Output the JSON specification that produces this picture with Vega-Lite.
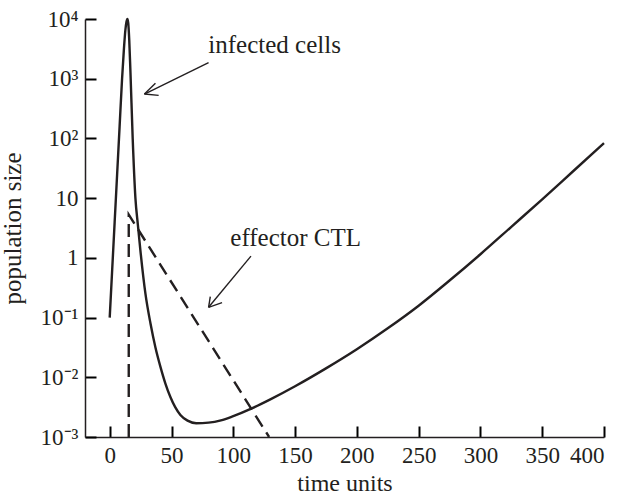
{
  "$schema": "https://vega.github.io/schema/vega-lite/v6.json",
  "autosize": "none",
  "width": 519,
  "height": 418,
  "padding": {"left": 85, "top": 19, "right": 19, "bottom": 58},
  "background": "white",
  "datasets": {
    "infected": [
      {"t": 0, "v": 0.1}, {"t": 2, "v": 0.631}, {"t": 4, "v": 3.98}, {"t": 6, "v": 25.1},
      {"t": 8, "v": 158}, {"t": 10, "v": 1000}, {"t": 11.5, "v": 3162}, {"t": 12.7, "v": 6607},
      {"t": 13.6, "v": 9120}, {"t": 14.3, "v": 10000}, {"t": 15.0, "v": 8511}, {"t": 15.8, "v": 4467},
      {"t": 16.8, "v": 1259}, {"t": 18.6, "v": 100}, {"t": 20.8, "v": 10}, {"t": 22.8, "v": 3.55},
      {"t": 24.8, "v": 1.35}, {"t": 28.9, "v": 0.251}, {"t": 33, "v": 0.0794}, {"t": 37, "v": 0.0316},
      {"t": 41, "v": 0.0151}, {"t": 45, "v": 0.00794}, {"t": 49.1, "v": 0.00468}, {"t": 53, "v": 0.00316},
      {"t": 57.2, "v": 0.00234}, {"t": 63, "v": 0.00188}, {"t": 70, "v": 0.0017}, {"t": 80, "v": 0.00174},
      {"t": 90, "v": 0.0019}, {"t": 100, "v": 0.00224}, {"t": 115, "v": 0.00302}, {"t": 130, "v": 0.00427},
      {"t": 150, "v": 0.00708}, {"t": 175, "v": 0.0141}, {"t": 200, "v": 0.0295}, {"t": 225, "v": 0.0661},
      {"t": 250, "v": 0.158}, {"t": 275, "v": 0.417}, {"t": 300, "v": 1.15}, {"t": 325, "v": 3.31},
      {"t": 350, "v": 9.55}, {"t": 375, "v": 28.2}, {"t": 400, "v": 83.2}
    ],
    "ctl": [
      {"i": 0, "t": 15.4, "v": 0.001},
      {"i": 1, "t": 15.4, "v": 5.3},
      {"i": 2, "t": 129, "v": 0.001}
    ],
    "arrows": [
      {"t": 80.0, "v": 1853, "t2": 28.1, "v2": 554},
      {"t": 28.1, "v": 554, "t2": 37.0, "v2": 838},
      {"t": 28.1, "v": 554, "t2": 39.6, "v2": 527},
      {"t": 114.3, "v": 1.07, "t2": 80.0, "v2": 0.1486},
      {"t": 80.0, "v": 0.1486, "t2": 81.4, "v2": 0.2234},
      {"t": 80.0, "v": 0.1486, "t2": 90.9, "v2": 0.1774}
    ],
    "labels": [
      {"t": 79.8, "v": 2692, "label": "infected cells"},
      {"t": 97.6, "v": 1.58, "label": "effector CTL"}
    ]
  },
  "encoding": {
    "x": {
      "field": "t", "type": "quantitative",
      "scale": {"domain": [-20, 400], "nice": false, "zero": false},
      "axis": {
        "title": "time units",
        "values": [0, 50, 100, 150, 200, 250, 300, 350, 400],
        "tickSize": -11,
        "labelPadding": 18,
        "titlePadding": 4,
        "titleFontSize": 24
      }
    },
    "y": {
      "field": "v", "type": "quantitative",
      "scale": {"type": "log", "domain": [0.001, 10000], "nice": false},
      "axis": {
        "title": "population size",
        "values": [0.001, 0.01, 0.1, 1, 10, 100, 1000, 10000],
        "tickSize": -11,
        "labelPadding": 18,
        "titlePadding": 15,
        "titleFontSize": 25,
        "labelExpr": "datum.value > 5000 ? '10⁴' : datum.value > 500 ? '10³' : datum.value > 50 ? '10²' : datum.value > 5 ? '10' : datum.value > 0.5 ? '1' : datum.value > 0.05 ? '10⁻¹' : datum.value > 0.005 ? '10⁻²' : '10⁻³'"
      }
    }
  },
  "layer": [
    {
      "data": {"name": "infected"},
      "mark": {"type": "line", "interpolate": "monotone", "color": "#231f20", "strokeWidth": 2.4}
    },
    {
      "data": {"name": "ctl"},
      "mark": {"type": "line", "color": "#231f20", "strokeWidth": 2.4, "strokeDash": [13, 7]},
      "encoding": {"order": {"field": "i", "type": "quantitative"}}
    },
    {
      "data": {"name": "arrows"},
      "mark": {"type": "rule", "color": "#231f20", "strokeWidth": 1.4},
      "encoding": {
        "x2": {"field": "t2"},
        "y2": {"field": "v2"}
      }
    },
    {
      "data": {"name": "labels"},
      "mark": {"type": "text", "align": "left", "baseline": "alphabetic", "font": "Liberation Serif", "fontSize": 25, "color": "#231f20"},
      "encoding": {"text": {"field": "label"}}
    }
  ],
  "config": {
    "view": {"stroke": null},
    "axis": {
      "grid": false,
      "ticks": true,
      "domainColor": "#231f20",
      "tickColor": "#000000",
      "domainWidth": 1.5,
      "tickWidth": 2,
      "labelColor": "#231f20",
      "titleColor": "#231f20",
      "labelFont": "Liberation Serif",
      "titleFont": "Liberation Serif",
      "labelFontSize": 23,
      "titleFontWeight": "normal"
    }
  }
}
